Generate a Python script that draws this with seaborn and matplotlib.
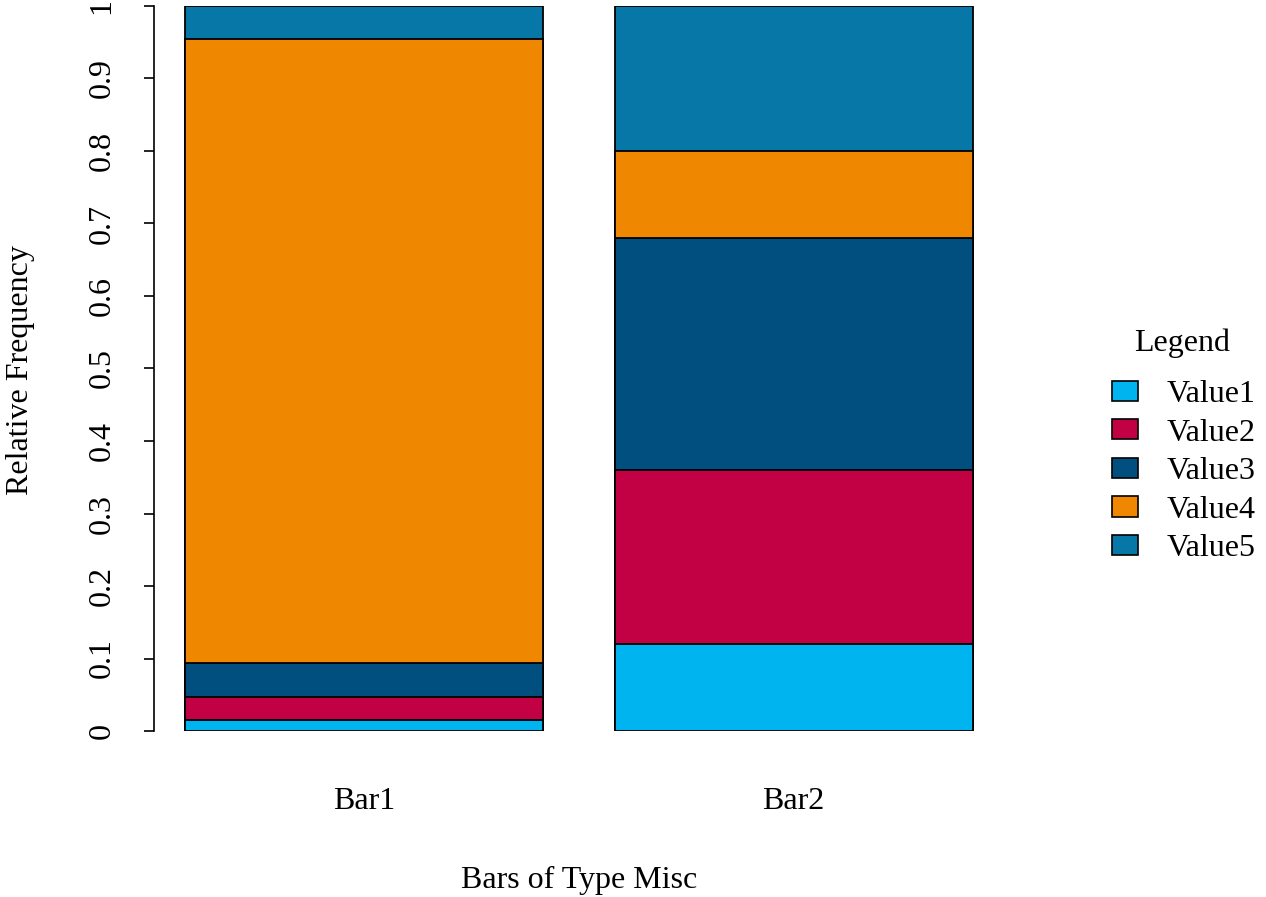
import matplotlib
matplotlib.use("Agg")
import matplotlib.pyplot as plt
from matplotlib.patches import Patch
import numpy as np
import pandas as pd
import seaborn as sns

# Data (relative frequencies per bar)
bars = ["Bar1", "Bar2"]
series = ["Value1", "Value2", "Value3", "Value4", "Value5"]
value1 = [0.015, 0.12]
value2 = [0.032, 0.24]
value3 = [0.047, 0.32]
value4 = [0.860, 0.12]
value5 = [0.046, 0.20]
colors = ["#00B4F0", "#C20044", "#004F7F", "#F08700", "#0677A7"]

sns.set_style("white")
plt.rcParams["font.family"] = ["Liberation Serif", "DejaVu Serif"]
plt.rcParams["font.size"] = 23
plt.rcParams["text.color"] = "black"
plt.rcParams["axes.labelcolor"] = "black"
plt.rcParams["xtick.color"] = "black"
plt.rcParams["ytick.color"] = "black"

df = pd.DataFrame({"bar": bars, "Value1": value1, "Value2": value2,
                   "Value3": value3, "Value4": value4, "Value5": value5})
cum = df[series].cumsum(axis=1)

fig = plt.figure(figsize=(12.66, 8.97), dpi=100)
ax = fig.add_axes([154 / 1266, 166 / 897, 850 / 1266, 725 / 897])

# draw cumulative bars from the top segment down so they stack
for s, c in reversed(list(zip(series, colors))):
    sns.barplot(x=df["bar"], y=cum[s], order=bars, color=c, edgecolor="black",
                linewidth=1.3, width=1 / 1.2, saturation=1, ax=ax)

ax.set_xlim(-0.49, 1.49)
ax.set_ylim(0, 1)
ax.set_yticks(np.arange(0, 1.01, 0.1))
ax.set_yticklabels(["0"] + [f"{v:.1f}" for v in np.arange(0.1, 0.95, 0.1)] + ["1"],
                   rotation=90, va="center")
for sp in ["top", "right", "bottom"]:
    ax.spines[sp].set_visible(False)
ax.spines["left"].set_color("black")
ax.spines["left"].set_linewidth(1.2)
ax.tick_params(axis="y", left=True, direction="out", length=7, width=1.2,
               pad=20, color="black", labelcolor="black")
ax.tick_params(axis="x", length=0, pad=40, labelcolor="black")

ax.set_xlabel("Bars of Type Misc", va="center")
ax.xaxis.set_label_coords(0.5, -0.206)
ax.set_ylabel("Relative Frequency", va="center")
ax.yaxis.set_label_coords(-0.157, 0.498)

handles = [Patch(facecolor=c, edgecolor="black", linewidth=1.2) for c in colors]
fig.text(1182 / 1266, 1 - 343 / 897, "Legend", ha="center", va="center")
fig.legend(handles, series, loc="upper left",
           bbox_to_anchor=(1112 / 1266, 1 - 380 / 897), frameon=False,
           borderpad=0, borderaxespad=0, handlelength=0.8, handleheight=0.6,
           handletextpad=0.9, labelspacing=0.3, fontsize=23)

fig.savefig("out.png", dpi=100)
